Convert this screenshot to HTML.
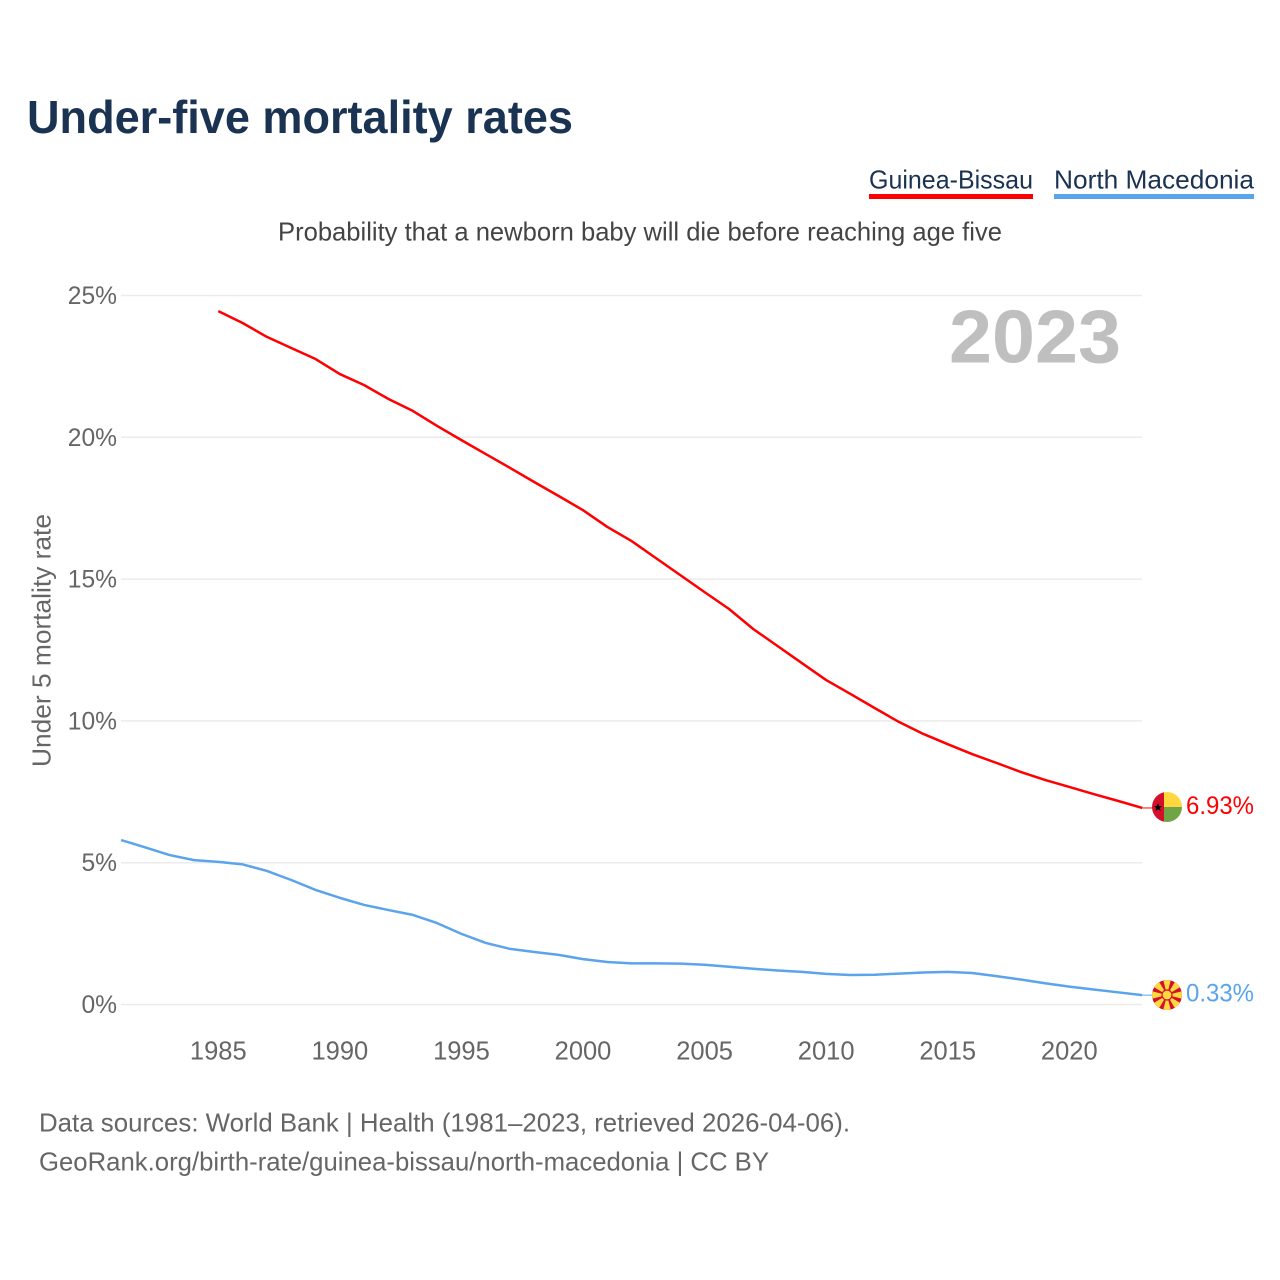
<!DOCTYPE html>
<html lang="en">
<head>
<meta charset="utf-8">
<title>Under-five mortality rates</title>
<style>
html,body{margin:0;padding:0;background:#fff;}
svg{display:block;}
text{font-family:"Liberation Sans",sans-serif;}
</style>
</head>
<body>
<svg id="chart" width="1280" height="1280" viewBox="0 0 1280 1280" xmlns="http://www.w3.org/2000/svg">
  <rect width="1280" height="1280" fill="#ffffff"/>
  <text x="27" y="133" font-size="46" font-weight="700" fill="#1a3352" textLength="546" lengthAdjust="spacingAndGlyphs">Under-five mortality rates</text>
  <g>
    <text x="869" y="188.5" font-size="26" fill="#1a3352" textLength="164" lengthAdjust="spacingAndGlyphs">Guinea-Bissau</text>
    <rect x="869" y="194" width="164" height="5" fill="#ff0000"/>
  </g>
  <g>
    <text x="1054" y="188.5" font-size="26" fill="#1a3352" textLength="200" lengthAdjust="spacingAndGlyphs">North Macedonia</text>
    <rect x="1054" y="194" width="200" height="5" fill="#5ba4ec"/>
  </g>
  <text x="278" y="240.5" font-size="26" fill="#444444" textLength="724" lengthAdjust="spacingAndGlyphs">Probability that a newborn baby will die before reaching age five</text>
  <text transform="translate(50.5,767) rotate(-90)" font-size="26" fill="#666666" textLength="253" lengthAdjust="spacingAndGlyphs">Under 5 mortality rate</text>
  <g id="grid"></g>
  <g id="ytick-labels"></g>
  <g id="xtick-labels"></g>
  <text x="949" y="362.5" font-size="75" font-weight="700" fill="#bfbfbf" textLength="172" lengthAdjust="spacingAndGlyphs">2023</text>
  <g id="series"></g>
  <g id="flag-gw">
    <clipPath id="clip-gw"><circle cx="1167" cy="807" r="15"/></clipPath>
    <g clip-path="url(#clip-gw)">
      <rect x="1152" y="792" width="12" height="30" fill="#d2102b"/>
      <rect x="1164" y="792" width="18" height="15" fill="#ffd83f"/>
      <rect x="1164" y="807" width="18" height="15" fill="#6fa544"/>
      <polygon points="1158,803 1159.2,806 1162,806 1159.8,808 1160.6,811 1158,809.2 1155.4,811 1156.2,808 1154,806 1156.8,806" fill="#000000"/>
    </g>
  </g>
  <g id="flag-mk">
    <clipPath id="clip-mk"><circle cx="1167" cy="995" r="15"/></clipPath>
    <g clip-path="url(#clip-mk)">
      <rect x="1152" y="980" width="30" height="30" fill="#d2102b"/>
      <g fill="#ffd83f">
        <polygon points="1167,995 1171,979 1163,979"/>
        <polygon points="1167,995 1171,1011 1163,1011"/>
        <polygon points="1167,995 1183,999 1183,991"/>
        <polygon points="1167,995 1151,999 1151,991"/>
        <polygon points="1167,995 1181.1,986.5 1175.5,980.9"/>
        <polygon points="1167,995 1152.9,986.5 1158.5,980.9"/>
        <polygon points="1167,995 1152.9,1003.5 1158.5,1009.1"/>
        <polygon points="1167,995 1181.1,1003.5 1175.5,1009.1"/>
      </g>
      <circle cx="1167" cy="995" r="5.6" fill="#d2102b"/>
      <circle cx="1167" cy="995" r="4.4" fill="#ffd83f"/>
    </g>
  </g>
  <text x="1186" y="814" font-size="25" fill="#ff0000" textLength="68" lengthAdjust="spacingAndGlyphs">6.93%</text>
  <text x="1186" y="1001.5" font-size="25" fill="#5ba4ec" textLength="68" lengthAdjust="spacingAndGlyphs">0.33%</text>
  <text x="39" y="1131.5" font-size="26" fill="#666666" textLength="811" lengthAdjust="spacingAndGlyphs">Data sources: World Bank | Health (1981–2023, retrieved 2026-04-06).</text>
  <text x="39" y="1170.5" font-size="26" fill="#666666" textLength="730" lengthAdjust="spacingAndGlyphs">GeoRank.org/birth-rate/guinea-bissau/north-macedonia | CC BY</text>
</svg>
<script>
const yTicks = [0, 5, 10, 15, 20, 25];
const xTicks = [1985, 1990, 1995, 2000, 2005, 2010, 2015, 2020];
const guineaBissauStart = 1985;
const guineaBissauValues = [24.45,24.03,23.54,23.15,22.76,22.23,21.84,21.35,20.93,20.40,19.90,19.41,18.92,18.42,17.93,17.43,16.84,16.34,15.74,15.14,14.54,13.95,13.24,12.64,12.04,11.44,10.95,10.45,9.96,9.54,9.18,8.83,8.52,8.20,7.92,7.67,7.42,7.18,6.93];
const northMacedoniaStart = 1981;
const northMacedoniaValues = [5.80,5.54,5.27,5.09,5.03,4.94,4.71,4.39,4.04,3.76,3.51,3.33,3.16,2.87,2.49,2.17,1.96,1.85,1.75,1.60,1.50,1.45,1.45,1.44,1.40,1.33,1.26,1.20,1.15,1.08,1.04,1.05,1.09,1.13,1.15,1.11,1.00,0.88,0.75,0.63,0.53,0.43,0.33];

const NS = 'http://www.w3.org/2000/svg';
function xScale(year) { return 218.3 + (year - 1985) * (1069.3 - 218.3) / 35; }
function yScale(v) { return 1004.5 - v * (1004.5 - 295.5) / 25; }

const grid = document.getElementById('grid');
const yLabels = document.getElementById('ytick-labels');
yTicks.forEach(function (t) {
  const line = document.createElementNS(NS, 'line');
  
  
  line.setAttribute('x1', 121);
  line.setAttribute('x2', 1142);
  line.setAttribute('y1', yScale(t));
  line.setAttribute('y2', yScale(t));
  line.setAttribute('stroke', '#ebebeb');
  line.setAttribute('stroke-width', 1.5);
  grid.appendChild(line);
  const label = document.createElementNS(NS, 'text');
  
  
  label.setAttribute('x', 117);
  label.setAttribute('y', yScale(t) + 8.5);
  label.setAttribute('text-anchor', 'end');
  label.setAttribute('font-size', 24.6);
  label.setAttribute('fill', '#666666');
  label.textContent = t + '%';
  yLabels.appendChild(label);
});

const xLabels = document.getElementById('xtick-labels');
xTicks.forEach(function (t) {
  const label = document.createElementNS(NS, 'text');
  
  
  label.setAttribute('x', xScale(t));
  label.setAttribute('y', 1059.5);
  label.setAttribute('text-anchor', 'middle');
  label.setAttribute('font-size', 25.5);
  label.setAttribute('fill', '#666666');
  label.textContent = t;
  xLabels.appendChild(label);
});

const series = document.getElementById('series');
function drawSeries(values, startYear, color, name) {
  const pts = values.map(function (v, i) {
    return xScale(startYear + i).toFixed(2) + ',' + yScale(v).toFixed(2);
  });
  const line = document.createElementNS(NS, 'polyline');
  
  
  line.setAttribute('points', pts.join(' '));
  line.setAttribute('fill', 'none');
  line.setAttribute('stroke', color);
  line.setAttribute('stroke-width', 2.5);
  line.setAttribute('stroke-linejoin', 'round');
  series.appendChild(line);
  const lastY = yScale(values[values.length - 1]);
  const lead = document.createElementNS(NS, 'line');
  
  
  lead.setAttribute('x1', xScale(startYear + values.length - 1));
  lead.setAttribute('x2', 1153);
  lead.setAttribute('y1', lastY);
  lead.setAttribute('y2', lastY);
  lead.setAttribute('stroke', color);
  lead.setAttribute('stroke-width', 1);
  series.appendChild(lead);
}
drawSeries(guineaBissauValues, guineaBissauStart, '#ff0000', 'line-guinea-bissau');
drawSeries(northMacedoniaValues, northMacedoniaStart, '#5ba4ec', 'line-north-macedonia');
</script>
</body>
</html>
